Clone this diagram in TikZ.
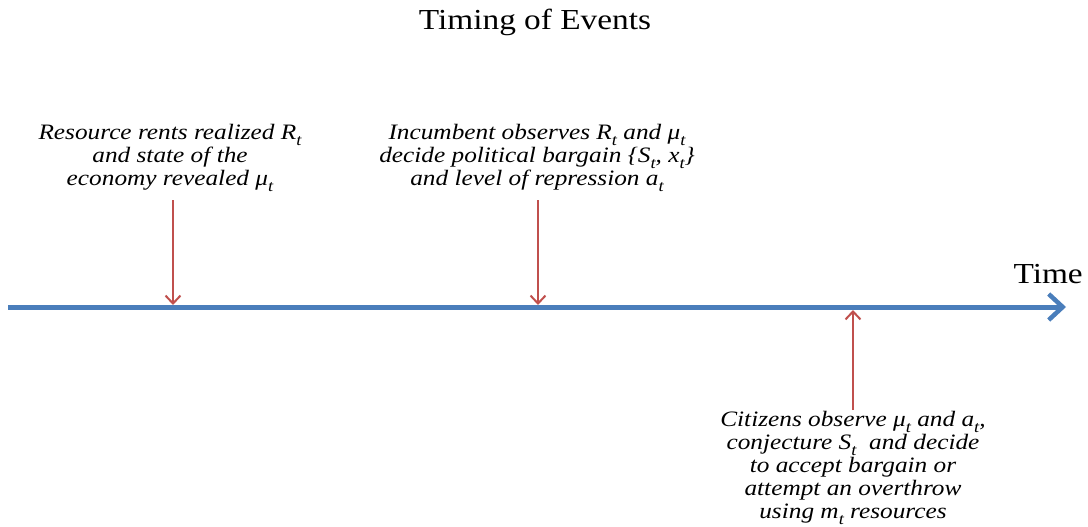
\documentclass[tikz,border=0pt]{standalone}
\usepackage{fontspec}
\setmainfont[FakeStretch=1.15]{Liberation Serif}
\usetikzlibrary{arrows.meta}
\definecolor{tlblue}{RGB}{74,126,187}
\definecolor{evred}{RGB}{192,80,77}
\newcommand{\vsub}[2]{#1\raisebox{-0.25em}{\fontsize{16}{16}\selectfont #2}}
\tikzset{
  event/.style={font=\fontsize{22}{23}\selectfont\itshape, align=center, inner sep=0pt},
  evarrow/.style={draw=evred, line width=2pt, -{Straight Barb[length=8pt,width=15pt,line width=2pt]}},
  timeline/.style={draw=tlblue, line width=5pt, -{Straight Barb[length=14pt,width=26pt,line width=4.5pt]}}
}
\begin{document}
\begin{tikzpicture}[x=1pt,y=-1pt]
\useasboundingbox (0,0) rectangle (1088,527);
\node[font=\fontsize{29}{30}\selectfont] (title) at (535,22) {Timing of Events};
\coordinate (start) at (8,307);
\coordinate (end) at (1066,307);
\draw[timeline] (start) -- (end);
\node[font=\fontsize{29}{30}\selectfont, anchor=base west] (time) at (1010,283) {Time};
\node[event] (e1) at (170,158) {Resource rents realized \vsub{R}{t}\\and state of the\\economy revealed \vsub{μ}{t}};
\node[event] (e2) at (537,158) {Incumbent observes \vsub{R}{t} and \vsub{μ}{t}\\decide political bargain \{\vsub{S}{t}, \vsub{x}{t}\}\\and level of repression \vsub{a}{t}};
\node[event] (e3) at (853,468) {Citizens observe \vsub{μ}{t} and \vsub{a}{t},\\conjecture \vsub{S}{t}\ \ and decide\\to accept bargain or\\attempt an overthrow\\using \vsub{m}{t} resources};
\coordinate (p1) at (173,305);
\coordinate (p2) at (538,305);
\coordinate (p3) at (853,310);
\coordinate (s1) at (173,200);
\coordinate (s2) at (538,200);
\coordinate (s3) at (853,410);
\draw[evarrow] (s1) -- (p1);
\draw[evarrow] (s2) -- (p2);
\draw[evarrow] (s3) -- (p3);
\end{tikzpicture}
\end{document}
